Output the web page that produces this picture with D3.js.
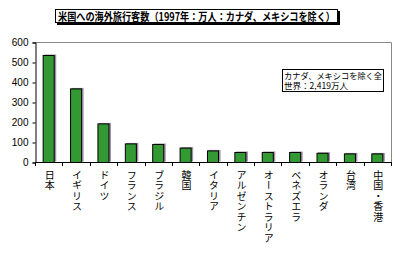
<!DOCTYPE html>
<html><head><meta charset="utf-8">
<script src="https://cdn.jsdelivr.net/npm/d3@7"></script>
<style>
html,body{margin:0;padding:0;background:#fff;}
svg{display:block;}
</style></head>
<body>
<svg id="c" width="400" height="253"></svg>
<script>
const categories = ["日本","イギリス","ドイツ","フランス","ブラジル","韓国","イタリア","アルゼンチン","オーストラリア","ベネズエラ","オランダ","台湾","中国・香港"];
const values = [535, 368, 193, 93, 90, 72, 58, 50, 50, 50, 46, 43, 43];
const yTicks = [0, 100, 200, 300, 400, 500, 600];
const title = "米国への海外旅行客数（1997年：万人：カナダ、メキシコを除く）";
const noteLines = ["カナダ、メキシコを除く全", "世界：2,419万人"];

(function () {
const svg = d3.select("#c");
const jp = "'Noto Sans CJK JP', sans-serif";
const pl = 35, pr = 391, pt = 42, pb = 162;

const x = d3.scaleBand().domain(categories).range([pl, pr]).paddingInner(0.56).paddingOuter(0.28);
const y = d3.scaleLinear().domain([0, 600]).range([pb, pt]);

svg.append("path")
  .attr("d", `M${pl},${pt + 0.5}H${pr + 0.5}V${pb}`)
  .attr("fill", "none").attr("stroke", "#888").attr("stroke-width", 1);

const step = (pr - pl) / categories.length;
svg.append("g").selectAll("rect").data(values).join("rect")
  .attr("x", (d, i) => x(categories[i]) + 1.5)
  .attr("y", d => y(d) - 0.5)
  .attr("width", x.bandwidth())
  .attr("height", d => y(0) - y(d))
  .attr("fill", "#a090a8");
svg.append("g").selectAll("rect").data(values).join("rect")
  .attr("x", (d, i) => x(categories[i]) + 0.5)
  .attr("y", d => y(d) + 0.5)
  .attr("width", x.bandwidth() - 1)
  .attr("height", d => y(0) - y(d))
  .attr("fill", "#339933").attr("stroke", "#000").attr("stroke-width", 1);

const ya = d3.axisLeft(y).tickValues(yTicks).tickSize(3).tickPadding(4);
const gy = svg.append("g").attr("transform", `translate(${pl + 0.5},0.5)`).call(ya);
gy.selectAll("text").attr("font-family", "Arial, 'Liberation Sans', sans-serif").attr("font-size", 10).attr("fill", "#000");
gy.selectAll("line,path").attr("stroke", "#000");

const boundaries = d3.range(categories.length + 1).map(i => pl + i * step);
svg.append("line").attr("x1", pl).attr("x2", pr).attr("y1", pb + 0.5).attr("y2", pb + 0.5).attr("stroke", "#000");
svg.append("g").selectAll("line").data(boundaries).join("line")
  .attr("x1", d => Math.round(d) + 0.5).attr("x2", d => Math.round(d) + 0.5)
  .attr("y1", pb).attr("y2", pb + 4).attr("stroke", "#000");

svg.append("g").selectAll("text").data(categories).join("text")
  .attr("x", d => x(d) + x.bandwidth() / 2 + 1)
  .attr("y", 170)
  .attr("font-family", jp).attr("font-size", 10)
  .style("writing-mode", "vertical-rl").style("text-orientation", "upright")
  .style("letter-spacing", "0.5px")
  .attr("fill", "#000")
  .text(d => d);

svg.append("rect").attr("x", 57).attr("y", 11).attr("width", 283).attr("height", 14).attr("fill", "#000");
svg.append("rect").attr("x", 55.5).attr("y", 9.5).attr("width", 282).attr("height", 13).attr("fill", "#fff").attr("stroke", "#000");
svg.append("text").attr("x", 58).attr("y", 20.5)
  .attr("font-family", jp).attr("font-size", 11).attr("font-weight", "bold")
  .attr("textLength", 277).attr("lengthAdjust", "spacingAndGlyphs")
  .text(title);

svg.append("rect").attr("x", 282.5).attr("y", 69.5).attr("width", 101).attr("height", 22).attr("fill", "#fff").attr("stroke", "#000");
svg.append("text").attr("x", 284).attr("y", 78.5)
  .attr("font-family", jp).attr("font-size", 8.5)
  .attr("textLength", 98).attr("lengthAdjust", "spacingAndGlyphs")
  .text(noteLines[0]);
svg.append("text").attr("x", 284).attr("y", 89)
  .attr("font-family", jp).attr("font-size", 8.5)
  .attr("textLength", 64).attr("lengthAdjust", "spacingAndGlyphs")
  .text(noteLines[1]);
})();
</script>
</body></html>
